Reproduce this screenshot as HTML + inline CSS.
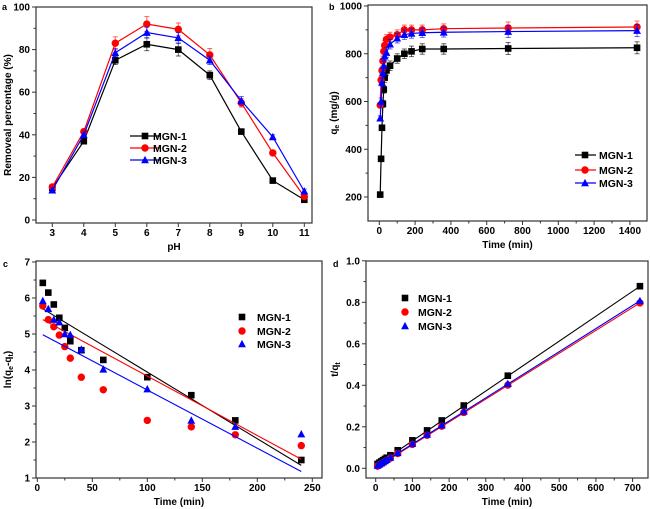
<!DOCTYPE html>
<html><head><meta charset="utf-8"><style>
html,body{margin:0;padding:0;background:#fff;}
svg{display:block;font-family:"Liberation Sans",Arial,sans-serif;font-weight:bold;}
</style></head><body>
<svg id="s" width="650" height="509" viewBox="0 0 650 509" xmlns="http://www.w3.org/2000/svg"></svg>
<script>
const S=document.getElementById('s');let h='';
const C={k:'#000',r:'#f00',b:'#00f'};
function mk(c,x,y,sz){sz=sz||3.3;
 if(c==='k')return `<rect x="${x-sz}" y="${y-sz}" width="${2*sz}" height="${2*sz}" fill="#000"/>`;
 if(c==='r')return `<circle cx="${x}" cy="${y}" r="${sz+0.4}" fill="#f00"/>`;
 return `<polygon points="${x},${y-sz-0.8} ${x-sz-0.6},${y+sz} ${x+sz+0.6},${y+sz}" fill="#00f"/>`;}
function panel(p){
 const X=v=>p.x0+(v-p.xv0)*p.xs, Y=v=>p.y0-(v-p.yv0)*p.ys;
 h+=`<rect x="${p.L}" y="${p.T}" width="${p.R-p.L}" height="${p.B-p.T}" fill="none" stroke="#333" stroke-width="1.2"/>`;
 p.xt.forEach(v=>{const x=X(v);h+=`<line x1="${x}" y1="${p.B}" x2="${x}" y2="${p.B+4}" stroke="#333"/><text x="${x}" y="${p.B+13}" font-size="10" text-anchor="middle">${v}</text>`;});
 (p.xm||[]).forEach(v=>{const x=X(v);h+=`<line x1="${x}" y1="${p.B}" x2="${x}" y2="${p.B+2.5}" stroke="#333"/>`;});
 p.yt.forEach(v=>{const y=Y(v);h+=`<line x1="${p.L-4}" y1="${y}" x2="${p.L}" y2="${y}" stroke="#333"/><text x="${p.L-6}" y="${y+3.5}" font-size="10" text-anchor="end">${p.yf?p.yf(v):v}</text>`;});
 (p.ym||[]).forEach(v=>{const y=Y(v);h+=`<line x1="${p.L-2.5}" y1="${y}" x2="${p.L}" y2="${y}" stroke="#333"/>`;});
 h+=`<text x="${(p.L+p.R)/2}" y="${p.B+27}" font-size="10" text-anchor="middle">${p.xl}</text>`;
 h+=`<text transform="translate(${p.ylx},${(p.T+p.B)/2}) rotate(-90)" font-size="10" text-anchor="middle">${p.yl}</text>`;
 p.series.forEach(s=>{
  const pts=s.t.map((t,i)=>[X(t),Y(s.v[i])]);
  if(s.line)h+=`<polyline points="${pts.map(q=>q.join(',')).join(' ')}" fill="none" stroke="${C[s.c]}" stroke-width="1.2"/>`;
  if(s.fit)h+=`<line x1="${X(s.fit[0])}" y1="${Y(s.fit[1])}" x2="${X(s.fit[2])}" y2="${Y(s.fit[3])}" stroke="${C[s.c]}" stroke-width="1.1"/>`;
  if(s.err)pts.forEach((q,i)=>{const e=s.err[i]*p.ys;h+=`<line x1="${q[0]}" y1="${q[1]-e}" x2="${q[0]}" y2="${q[1]+e}" stroke="${C[s.c]}" stroke-opacity="0.6"/><line x1="${q[0]-2.5}" y1="${q[1]-e}" x2="${q[0]+2.5}" y2="${q[1]-e}" stroke="${C[s.c]}" stroke-opacity="0.6"/><line x1="${q[0]-2.5}" y1="${q[1]+e}" x2="${q[0]+2.5}" y2="${q[1]+e}" stroke="${C[s.c]}" stroke-opacity="0.6"/>`;});
  pts.forEach(q=>h+=mk(s.c,q[0],q[1],p.ms));
 });
 p.leg.ys.forEach((y,i)=>{const c=['k','r','b'][i];
  if(p.leg.line)h+=`<line x1="${p.leg.l1}" y1="${y}" x2="${p.leg.l2}" y2="${y}" stroke="${C[c]}" stroke-width="1.2"/>`;
  h+=mk(c,p.leg.mx,y);h+=`<text x="${p.leg.tx}" y="${y+4}" font-size="10.5">MGN-${i+1}</text>`;});
 h+=`<text x="${p.lab[0]}" y="${p.lab[1]}" font-size="9">${p.lab[2]}</text>`;
}
const pH=[3,4,5,6,7,8,9,10,11];
panel({L:36,R:312,T:7,B:223,x0:52.3,xv0:3,xs:31.5,y0:220,yv0:0,ys:2.13,
 xt:pH,yt:[0,20,40,60,80,100],ym:[10,30,50,70,90],xl:'pH',yl:'Removeal percentage (%)',ylx:11,lab:[2,10,'a'],
 leg:{line:1,l1:130,l2:160,mx:145,tx:153,ys:[136,148,160]},ms:3.3,
 series:[
 {c:'k',t:pH,v:[15,37,75,82.5,80,68,41.5,18.5,9.5],line:1,err:[1,1,2,3,3,2,1,0.5,0.5]},
 {c:'r',t:pH,v:[15.5,41.5,83,92,89.5,77.5,55,31.5,11],line:1,err:[1,1,3,3.5,3,3,2,1,0.5]},
 {c:'b',t:pH,v:[14,40,78.5,88,85.5,75,56,39,13.5],line:1,err:[1,1,2,2.5,2.5,2,2,1,1]}]});
const tb=[5,10,15,20,25,30,40,60,100,140,180,240,360,720,1440];
panel({L:368,R:647,T:5,B:221,x0:379.3,xv0:0,xs:35.8/200,y0:197,yv0:200,ys:47.75/200,
 xt:[0,200,400,600,800,1000,1200,1400],xm:[100,300,500,700,900,1100,1300],yt:[200,400,600,800,1000],ym:[300,500,700,900],
 xl:'Time (min)',yl:'q<tspan font-size="7" dy="2">e</tspan><tspan dy="-2"> (mg/g)</tspan>',ylx:337,lab:[329,10,'b'],
 leg:{line:1,l1:575,l2:596,mx:585,tx:599,ys:[155,170,183]},ms:3.3,
 series:[
 {c:'k',t:tb,v:[210,360,490,590,650,700,730,750,780,800,810,820,820,822,825],line:1,err:[5,10,10,15,15,20,20,20,20,20,22,22,22,25,25]},
 {c:'r',t:tb,v:[585,690,730,770,810,835,860,870,880,900,900,900,905,908,912],line:1,err:[10,15,15,20,20,20,20,20,20,20,20,20,20,25,25]},
 {c:'b',t:tb,v:[530,600,680,720,750,790,805,840,865,880,885,888,890,893,897],line:1,err:[10,15,15,20,20,20,20,20,20,20,20,20,20,25,25]}]});
const tc=[5,10,15,20,25,30,40,60,100,140,180,240];
panel({L:36,R:322,T:261,B:478,x0:37.3,xv0:0,xs:1.1,y0:478,yv0:1,ys:36,
 xt:[0,50,100,150,200,250],xm:[25,75,125,175,225],yt:[1,2,3,4,5,6,7],ym:[1.5,2.5,3.5,4.5,5.5,6.5],
 xl:'Time (min)',yl:'ln(q<tspan font-size="7" dy="2">e</tspan><tspan dy="-2">-q</tspan><tspan font-size="7" dy="2">t</tspan><tspan dy="-2">)</tspan>',ylx:11,lab:[3,267,'c'],
 leg:{line:0,mx:242,tx:257,ys:[317,331,344]},ms:3.3,
 series:[
 {c:'k',t:tc,v:[6.42,6.15,5.82,5.45,5.17,4.8,4.55,4.28,3.8,3.3,2.6,1.5],fit:[5,5.7,240,1.35]},
 {c:'r',t:tc,v:[5.78,5.4,5.2,4.97,4.65,4.33,3.8,3.45,2.6,2.42,2.2,1.9],fit:[5,5.4,240,1.52]},
 {c:'b',t:tc,v:[5.92,5.7,5.4,5.33,5.0,4.98,4.57,4.02,3.47,2.6,2.43,2.22],fit:[5,4.98,240,1.18]}]});
const td=[5,10,15,20,25,30,40,60,100,140,180,240,360,720];
const f=(a,b)=>td.map(t=>a+b*t);
panel({L:366,R:648,T:261,B:478,x0:375.7,xv0:0,xs:0.367,y0:468.3,yv0:0,ys:207.5,
 xt:[0,100,200,300,400,500,600,700],xm:[50,150,250,350,450,550,650],yt:[0,0.2,0.4,0.6,0.8,1.0],ym:[0.1,0.3,0.5,0.7,0.9],yf:v=>v.toFixed(1),
 xl:'Time (min)',yl:'t/q<tspan font-size="7" dy="2">t</tspan>',ylx:338,lab:[333,267,'d'],
 leg:{line:0,mx:405,tx:418,ys:[298,312,326]},ms:3.3,
 series:[
 {c:'k',t:td,v:f(0.015,0.001198),fit:[5,0.018,720,0.877]},
 {c:'r',t:td,v:f(0.005,0.0011),fit:[5,0.008,720,0.797]},
 {c:'b',t:td,v:f(0.008,0.00111),fit:[5,0.011,720,0.807]}]});
S.innerHTML=h;
</script>
</body></html>
